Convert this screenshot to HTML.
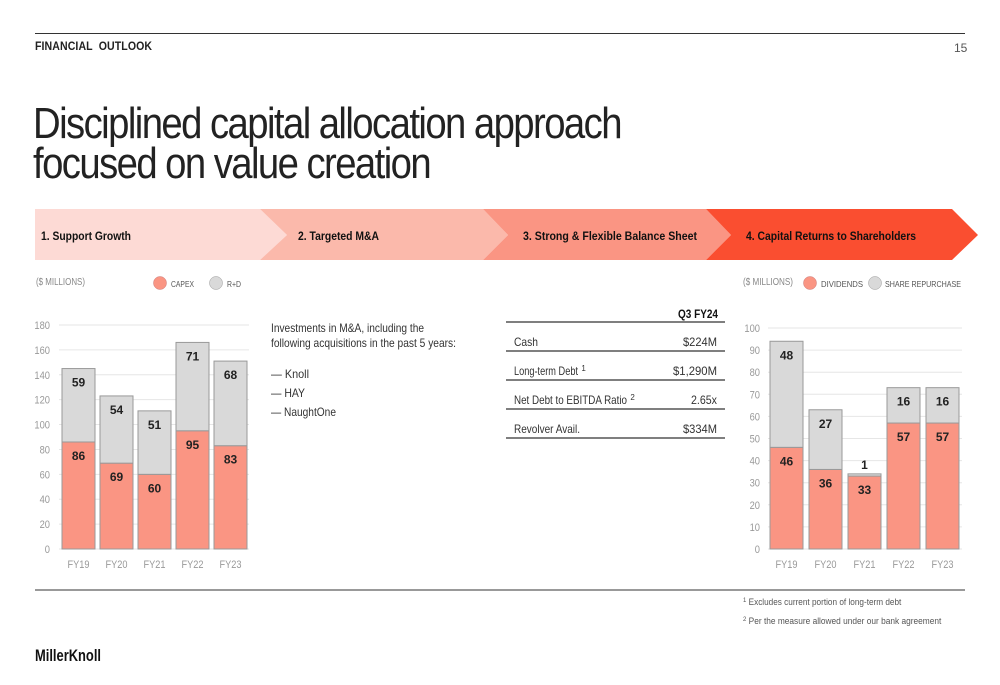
<!DOCTYPE html>
<html><head><meta charset="utf-8"><style>
body{margin:0;width:1000px;height:685px;background:#fff;font-family:"Liberation Sans",sans-serif;position:relative;overflow:hidden;color:#222}
.a{position:absolute;white-space:nowrap}
</style></head><body>
<div class="a" style="left:35px;top:39px;font-size:12px;font-weight:bold;letter-spacing:0.1px;transform:scaleX(0.88);transform-origin:left">FINANCIAL&nbsp; OUTLOOK</div>
<div class="a" style="left:954px;top:41px;font-size:12px;color:#555">15</div>
<div class="a" style="left:35px;top:33px;width:930px;height:1px;background:#333"></div>
<div class="a" style="left:33px;top:104px;font-size:44px;line-height:40px;color:#222;letter-spacing:-1.8px;transform:scaleX(0.87);transform-origin:left">Disciplined capital allocation approach<br>focused on value creation</div>

<svg class="a" style="left:0;top:0" width="1000" height="685">
<polygon points="35,209 260,209 287,235 260,260 35,260" fill="#fddad5"/>
<polygon points="260,209 483,209 508,235 483,260 260,260 287,235" fill="#fbb9ab"/>
<polygon points="483,209 706,209 731,235 706,260 483,260 508,235" fill="#fa9583"/>
<polygon points="706,209 952,209 978,235 952,260 706,260 731,235" fill="#fa4e30"/>
<g font-size="12" font-weight="bold" fill="#111">
<text x="41" y="240" textLength="90" lengthAdjust="spacingAndGlyphs">1. Support Growth</text>
<text x="298" y="240" textLength="81" lengthAdjust="spacingAndGlyphs">2. Targeted M&amp;A</text>
<text x="523" y="240" textLength="174" lengthAdjust="spacingAndGlyphs">3. Strong &amp; Flexible Balance Sheet</text>
<text x="746" y="240" textLength="170" lengthAdjust="spacingAndGlyphs">4. Capital Returns to Shareholders</text>
</g>
<g font-size="10" fill="#888">
<text x="36" y="285" textLength="49" lengthAdjust="spacingAndGlyphs">($ MILLIONS)</text>
<circle cx="160" cy="283" r="6.5" fill="#fa9583" stroke="#c77" stroke-width="0.5"/>
<text x="171" y="287" font-size="8.5" fill="#555" textLength="23" lengthAdjust="spacingAndGlyphs">CAPEX</text>
<circle cx="216" cy="283" r="6.5" fill="#d9d9d9" stroke="#999" stroke-width="0.5"/>
<text x="227" y="287" font-size="8.5" fill="#555" textLength="14" lengthAdjust="spacingAndGlyphs">R+D</text>
<text x="743" y="285" textLength="50" lengthAdjust="spacingAndGlyphs">($ MILLIONS)</text>
<circle cx="810" cy="283" r="6.5" fill="#fa9583" stroke="#c77" stroke-width="0.5"/>
<text x="821" y="287" font-size="8.5" fill="#555" textLength="42" lengthAdjust="spacingAndGlyphs">DIVIDENDS</text>
<circle cx="875" cy="283" r="6.5" fill="#d9d9d9" stroke="#999" stroke-width="0.5"/>
<text x="885" y="287" font-size="8.5" fill="#555" textLength="76" lengthAdjust="spacingAndGlyphs">SHARE REPURCHASE</text>
</g>
<g id="left"></g>
<g id="right"></g>
<g font-size="12" fill="#333">
<text x="271" y="332" textLength="153" lengthAdjust="spacingAndGlyphs">Investments in M&amp;A, including the</text>
<text x="271" y="347" textLength="185" lengthAdjust="spacingAndGlyphs">following acquisitions in the past 5 years:</text>
<text x="271" y="378" textLength="38" lengthAdjust="spacingAndGlyphs">— Knoll</text>
<text x="271" y="397" textLength="34" lengthAdjust="spacingAndGlyphs">— HAY</text>
<text x="271" y="416" textLength="65" lengthAdjust="spacingAndGlyphs">— NaughtOne</text>
<text x="718" y="318" text-anchor="end" font-weight="bold" fill="#111" textLength="40" lengthAdjust="spacingAndGlyphs">Q3 FY24</text>
<text x="514" y="346" textLength="24" lengthAdjust="spacingAndGlyphs">Cash</text><text x="717" y="346" text-anchor="end" textLength="34" lengthAdjust="spacingAndGlyphs">$224M</text>
<text x="514" y="375"><tspan textLength="64" lengthAdjust="spacingAndGlyphs">Long-term Debt</tspan> <tspan font-size="8" dy="-4">1</tspan></text><text x="717" y="375" text-anchor="end" textLength="44" lengthAdjust="spacingAndGlyphs">$1,290M</text>
<text x="514" y="404"><tspan textLength="113" lengthAdjust="spacingAndGlyphs">Net Debt to EBITDA Ratio</tspan> <tspan font-size="8" dy="-4">2</tspan></text><text x="717" y="404" text-anchor="end" textLength="26" lengthAdjust="spacingAndGlyphs">2.65x</text>
<text x="514" y="433" textLength="66" lengthAdjust="spacingAndGlyphs">Revolver Avail.</text><text x="717" y="433" text-anchor="end" textLength="34" lengthAdjust="spacingAndGlyphs">$334M</text>
</g>
<g stroke="#333" stroke-width="1.2">
<line x1="506" y1="322" x2="725" y2="322"/><line x1="506" y1="351" x2="725" y2="351"/><line x1="506" y1="380" x2="725" y2="380"/><line x1="506" y1="409" x2="725" y2="409"/><line x1="506" y1="438" x2="725" y2="438"/>
</g>
<line x1="35" y1="590" x2="965" y2="590" stroke="#333" stroke-width="1"/>
<g font-size="9" fill="#555">
<text x="743" y="605"><tspan font-size="6" dy="-3">1</tspan><tspan dy="3" textLength="155" lengthAdjust="spacingAndGlyphs"> Excludes current portion of long-term debt</tspan></text>
<text x="743" y="624"><tspan font-size="6" dy="-3">2</tspan><tspan dy="3" textLength="195" lengthAdjust="spacingAndGlyphs"> Per the measure allowed under our bank agreement</tspan></text>
</g>
<text x="35" y="661" font-size="17" font-weight="bold" fill="#111" textLength="66" lengthAdjust="spacingAndGlyphs">MillerKnoll</text>
</svg>
<script>
const leftCats=["FY19","FY20","FY21","FY22","FY23"];
const capex=[86,69,60,95,83];
const rd=[59,54,51,71,68];
const leftTicks=[0,20,40,60,80,100,120,140,160,180];
const rightCats=["FY19","FY20","FY21","FY22","FY23"];
const dividends=[46,36,33,57,57];
const repurchase=[48,27,1,16,16];
const rightTicks=[0,10,20,30,40,50,60,70,80,90,100];
const NS="http://www.w3.org/2000/svg";
function mk(p,t,a){const e=document.createElementNS(NS,t);for(const k in a)e.setAttribute(k,a[k]);p.appendChild(e);return e;}
function chart(g,cats,s1,s2,ticks,max,cfg){
  const y=v=>cfg.y0-v*(cfg.y0-cfg.yTop)/max;
  ticks.forEach(t=>{
    const l=mk(g,'line',{x1:cfg.gx0,x2:cfg.gx1,y1:y(t),y2:y(t),stroke:'#e6e6e6','stroke-width':1});
    
    
    const tx=mk(g,'text',{x:cfg.tickX,y:y(t)+4,'text-anchor':'end','font-size':11,fill:'#999',transform:'translate('+cfg.tickX+',0) scale(0.85,1) translate('+(-cfg.tickX)+',0)'});
    tx.textContent=t;
    
    
  });
  cats.forEach((c,i)=>{
    const x=cfg.x0+i*cfg.step, w=cfg.w;
    const r1=mk(g,'rect',{x:x,y:y(s1[i]),width:w,height:y(0)-y(s1[i]),fill:'#fa9583',stroke:'#999','stroke-width':1});
    
    
    const r2=mk(g,'rect',{x:x,y:y(s1[i]+s2[i]),width:w,height:y(s1[i])-y(s1[i]+s2[i]),fill:'#d9d9d9',stroke:'#999','stroke-width':1});
    
    
    const t1=mk(g,'text',{x:x+w/2,y:y(s1[i])+18,'text-anchor':'middle','font-size':12,'font-weight':'bold',fill:'#222'});
    t1.textContent=s1[i];
    
    
    const small=(y(s1[i])-y(s1[i]+s2[i]))<15;
    const t2=mk(g,'text',{x:x+w/2,y:small?y(s1[i]+s2[i])-5:y(s1[i]+s2[i])+18,'text-anchor':'middle','font-size':12,'font-weight':'bold',fill:'#222'});
    t2.textContent=s2[i];
    
    
    const xl=mk(g,'text',{x:x+w/2,y:cfg.y0+19,'text-anchor':'middle','font-size':11,fill:'#999',textLength:22,lengthAdjust:'spacingAndGlyphs'});
    xl.textContent=c;
    
    
  });
}
chart(document.getElementById('left'),leftCats,capex,rd,leftTicks,180,{y0:549,yTop:325,gx0:59,gx1:249,tickX:50,x0:62,step:38,w:33,n1:'capex',n2:'rd'});
chart(document.getElementById('right'),rightCats,dividends,repurchase,rightTicks,100,{y0:549,yTop:328,gx0:768,gx1:962,tickX:760,x0:770,step:39,w:33,n1:'dividends',n2:'repurchase'});
</script>
</body></html>
